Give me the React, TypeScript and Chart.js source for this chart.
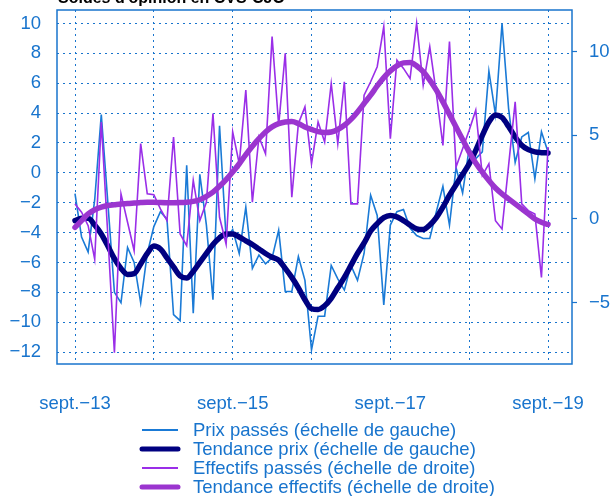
import React, { useEffect, useRef } from 'react';
import { Chart, registerables } from 'chart.js';

Chart.register(...registerables);

// Monthly values, sept. 2013 (index 0) to sept. 2019 (index 72)
const prixPasses = [
  -1.4, -4.3, -5.3, -1.8, 3.9, -2.0, -8.0, -8.7, -5.0, -6.0, -8.7, -5.4, -3.6,
  -2.6, -3.1, -9.5, -9.9, 0.5, -9.4, -0.1, -3.5, -8.5, 3.15, -4.4, -3.8,
  -5.4, -2.3, -6.4, -5.5, -6.1, -5.7, -3.85, -7.95, -7.95, -5.6, -7.2,
  -11.85, -9.6, -9.6, -6.2, -7.1, -7.85, -6.2, -7.2, -5.4, -1.5, -2.85, -8.85,
  -3.5, -2.6, -2.45, -3.7, -4.2, -4.4, -4.4, -2.6, -0.9, -3.5, 0.35, -1.35,
  1.65, 0.95, 1.4, 6.8, 3.9, 10.0, 4.3, 0.7, 2.4, 2.7, -0.4, 2.75, 1.4,
];

const tendancePrix = [
  -3.2, -3.05, -3.05, -3.5, -4.1, -4.9, -5.75, -6.4, -6.8, -6.75, -6.1, -5.4, -4.9,
  -5.1, -5.7, -6.3, -6.9, -7.05, -6.6, -6.0, -5.4, -4.8, -4.35, -4.1, -4.1,
  -4.3, -4.55, -4.8, -5.1, -5.4, -5.65, -5.85, -6.4, -7.0, -7.7, -8.5,
  -9.1, -9.15, -8.9, -8.4, -7.7, -7.0, -6.2, -5.4, -4.7, -3.9, -3.4, -3.0,
  -2.85, -2.95, -3.2, -3.5, -3.75, -3.8, -3.5, -3.0, -2.3, -1.5, -0.8, -0.1,
  0.6, 1.5, 2.5, 3.4, 3.87, 3.7, 3.1, 2.4, 1.85, 1.55, 1.4, 1.35, 1.33,
];

const effectifsPasses = [
  0.9, 0.4, -0.4, -2.4, 5.8, -1.0, -8.0, 1.5, -0.2, -1.9, 4.5, 1.5, 1.45,
  0.6, -0.1, 4.9, -0.9, -1.6, 2.3, -0.1, 1.0, 6.3, 0.1, -1.5, 5.2,
  3.3, 7.7, 1.0, 4.9, 3.9, 10.9, 5.6, 9.9, 1.3, 5.7, 6.7,
  3.3, 5.8, 4.6, 8.1, 4.5, 8.2, 0.9, 0.9, 7.4, 8.2, 9.1, 11.5,
  4.8, 9.5, 9.0, 8.4, 11.7, 8.0, 10.3, 7.5, 4.4, 10.6, 3.1, 4.2,
  5.3, 6.5, 2.6, 3.3, -0.1, -0.6, 3.2, 7.0, 0.9, 0.5, 0.3, -3.5, 4.3,
];

const tendanceEffectifs = [
  -0.5, -0.1, 0.3, 0.55, 0.7, 0.8, 0.85, 0.9, 0.92, 0.95, 0.98, 1.0, 1.0,
  0.98, 0.97, 0.97, 0.98, 1.0, 1.05, 1.15, 1.35, 1.6, 1.95, 2.35, 2.8,
  3.3, 3.85, 4.35, 4.8, 5.2, 5.5, 5.7, 5.8, 5.82, 5.7, 5.5,
  5.35, 5.22, 5.17, 5.2, 5.35, 5.6, 5.95, 6.4, 6.9, 7.4, 7.95, 8.45,
  8.85, 9.15, 9.33, 9.35, 9.15, 8.8, 8.3, 7.7, 7.0, 6.25, 5.5, 4.75,
  4.0, 3.35, 2.8, 2.3, 1.85, 1.5, 1.2, 0.9, 0.6, 0.3, 0.0, -0.2, -0.33,
];

const seriesLabels = [
  'Prix passés (échelle de gauche)',
  'Tendance prix (échelle de gauche)',
  'Effectifs passés (échelle de droite)',
  'Tendance effectifs (échelle de droite)',
];

const titleText = "Soldes d'opinion en CVS-CJO";

const gridMonths = [0, 12, 24, 36, 48, 60, 72];
const labelMonths = [0, 24, 48, 72];
const xTickLabels = ['sept.−13', 'sept.−15', 'sept.−17', 'sept.−19'];
const leftTicks = [-12, -10, -8, -6, -4, -2, 0, 2, 4, 6, 8, 10];
const rightTicks = [-5, 0, 5, 10];

const BLUE = '#1874CD';
const FONT = '"Liberation Sans", Arial, Helvetica, sans-serif';
const FS = 18.5;

const fmt = (v: number) => (v < 0 ? '\u2212' + Math.abs(v) : String(v));
const toPoints = (arr: number[]) => arr.map((v, i) => ({ x: i, y: v }));

const zeroPad = (s: any) => {
  s.paddingTop = 0;
  s.paddingBottom = 0;
  s.paddingLeft = 0;
  s.paddingRight = 0;
};

const decorPlugin = {
  id: 'decor',
  afterDraw(chart: any) {
    const { ctx, chartArea: a } = chart;
    ctx.save();
    ctx.strokeStyle = BLUE;
    ctx.lineWidth = 1.5;
    ctx.strokeRect(a.left, a.top, a.right - a.left, a.bottom - a.top);

    ctx.fillStyle = '#000';
    ctx.font = 'bold 16px ' + FONT;
    ctx.textAlign = 'left';
    ctx.textBaseline = 'alphabetic';
    ctx.fillText(titleText, 58, 3);

    chart.data.datasets.forEach((ds: any, i: number) => {
      const y = 430 + i * 19;
      ctx.beginPath();
      ctx.moveTo(142, y);
      ctx.lineTo(178, y);
      ctx.strokeStyle = ds.borderColor;
      ctx.lineWidth = ds.borderWidth > 3 ? 5 : 2;
      ctx.lineCap = ds.borderWidth > 3 ? 'round' : 'butt';
      ctx.stroke();
      ctx.fillStyle = BLUE;
      ctx.font = FS + 'px ' + FONT;
      ctx.textBaseline = 'middle';
      ctx.fillText(ds.label, 193, y + 1);
    });
    ctx.restore();
  },
};

export default function App() {
  const ref = useRef<HTMLCanvasElement | null>(null);

  useEffect(() => {
    if (!ref.current) return;
    const chart = new Chart(ref.current, {
      type: 'line',
      data: {
        datasets: [
          {
            label: seriesLabels[0],
            data: toPoints(prixPasses),
            borderColor: '#1A7AD6',
            borderWidth: 1.6,
            pointRadius: 0,
            yAxisID: 'y',
            order: 4,
          },
          {
            label: seriesLabels[1],
            data: toPoints(tendancePrix),
            borderColor: '#000080',
            borderWidth: 5.5,
            pointRadius: 0,
            cubicInterpolationMode: 'monotone',
            borderCapStyle: 'round',
            borderJoinStyle: 'round',
            yAxisID: 'y',
            order: 3,
          },
          {
            label: seriesLabels[2],
            data: toPoints(effectifsPasses),
            borderColor: '#9A2EE8',
            borderWidth: 1.6,
            pointRadius: 0,
            yAxisID: 'y1',
            order: 2,
          },
          {
            label: seriesLabels[3],
            data: toPoints(tendanceEffectifs),
            borderColor: '#9B35CF',
            borderWidth: 5.5,
            pointRadius: 0,
            cubicInterpolationMode: 'monotone',
            borderCapStyle: 'round',
            borderJoinStyle: 'round',
            yAxisID: 'y1',
            order: 1,
          },
        ] as any,
      },
      options: {
        animation: false,
        responsive: false,
        devicePixelRatio: 1,
        layout: { padding: { top: 10, left: 0, right: 0, bottom: 0 } },
        plugins: {
          legend: { display: false },
          tooltip: { enabled: false },
          title: { display: false },
        },
        scales: {
          x: {
            type: 'linear',
            min: -2.74,
            max: 75.65,
            afterBuildTicks: (s: any) => {
              s.ticks = gridMonths.map((v) => ({ value: v }));
            },
            afterFit: (s: any) => {
              s.height = 132;
              zeroPad(s);
            },
            ticks: {
              autoSkip: false,
              maxRotation: 0,
              padding: 29,
              color: BLUE,
              font: { family: FONT, size: FS },
              callback: (v: any) => {
                const k = labelMonths.indexOf(Number(v));
                return k >= 0 ? xTickLabels[k] : '';
              },
            },
            grid: { color: BLUE, lineWidth: 1, drawTicks: false },
            border: { display: false, dash: [2, 4] },
          },
          y: {
            type: 'linear',
            position: 'left',
            min: -12.8,
            max: 10.9,
            afterBuildTicks: (s: any) => {
              s.ticks = leftTicks.map((v) => ({ value: v }));
            },
            afterFit: (s: any) => {
              s.width = 57;
              zeroPad(s);
            },
            ticks: {
              padding: 16,
              color: BLUE,
              font: { family: FONT, size: FS },
              callback: (v: any) => fmt(Number(v)),
            },
            grid: { color: BLUE, lineWidth: 1, drawTicks: false },
            border: { display: false, dash: [2, 4] },
          },
          y1: {
            type: 'linear',
            position: 'right',
            min: -8.67,
            max: 12.49,
            afterBuildTicks: (s: any) => {
              s.ticks = rightTicks.map((v) => ({ value: v }));
            },
            afterFit: (s: any) => {
              s.width = 39;
              zeroPad(s);
            },
            ticks: {
              padding: 12,
              color: BLUE,
              font: { family: FONT, size: FS },
              callback: (v: any) => fmt(Number(v)),
            },
            grid: {
              drawOnChartArea: false,
              drawTicks: true,
              tickLength: 5,
              tickColor: BLUE,
              tickWidth: 1.2,
              color: BLUE,
            },
            border: { display: false },
          },
        },
      } as any,
      plugins: [decorPlugin],
    });
    return () => chart.destroy();
  }, []);

  return (
    <div style={{ position: 'absolute', left: 0, top: 0, width: 611, height: 496, background: '#fff' }}>
      <canvas ref={ref} width={611} height={496} style={{ display: 'block', width: 611, height: 496 }} />
    </div>
  );
}
